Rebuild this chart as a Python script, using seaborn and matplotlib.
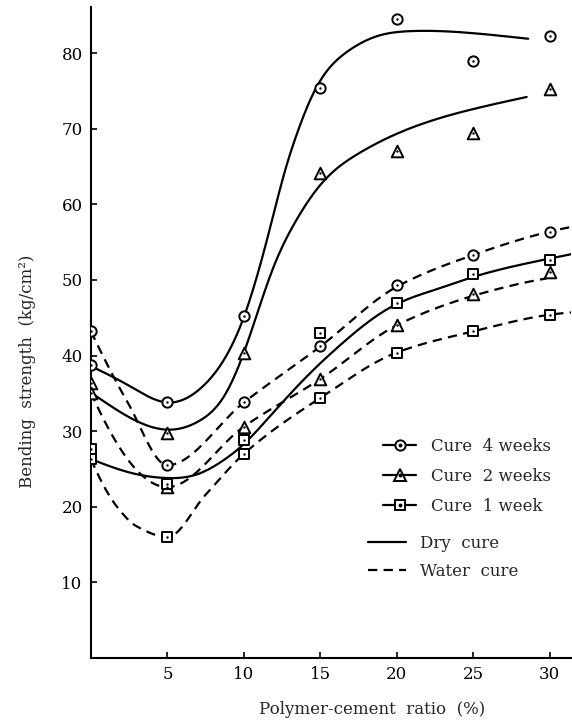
import numpy as np
import pandas as pd
import matplotlib
matplotlib.use("Agg")
import matplotlib.pyplot as plt
from matplotlib.lines import Line2D
import seaborn as sns

# ---- measured data (markers) ----
ratio = [0, 5, 10, 15, 20, 25, 30]
dry_4w = [38.7, 33.8, 45.2, 75.4, 84.5, 78.9, 82.3]
dry_2w = [36.4, 29.8, 40.4, 64.1, 67.1, 69.4, 75.2]
dry_1w = [27.7, 23.0, 28.8, 43.0, 47.0, 50.8, 52.6]
water_4w = [43.2, 25.5, 33.8, 41.2, 49.3, 53.3, 56.4]
water_2w = [35.1, 22.6, 30.6, 36.9, 44.1, 48.1, 51.0]
water_1w = [26.3, 16.0, 27.0, 34.4, 40.4, 43.2, 45.4]

# ---- fitted curves as drawn (knots) ----
dry_4w_fit_x = [0, 2.5, 5, 7.5, 10, 11.6, 12.7, 13.5, 14.7, 16.7, 18.8, 20.8, 24.6, 28.6]
dry_4w_fit_y = [38.6, 36.0, 33.8, 36.3, 45.1, 56.0, 64.5, 69.5, 75.3, 80.1, 82.3, 82.9, 82.7, 81.9]
dry_2w_fit_x = [0, 1.7, 5, 7.2, 8.7, 10, 11.9, 13.4, 15.1, 17.4, 20.8, 25.0, 28.5]
dry_2w_fit_y = [35.1, 32.8, 30.2, 31.5, 34.6, 40.4, 51.5, 57.8, 62.8, 66.6, 70.0, 72.6, 74.2]
dry_1w_fit_x = [0, 2.4, 5, 6.8, 8.7, 10, 11.5, 14.1, 16.2, 19.7, 22.8, 24.7, 29.7, 31.4]
dry_1w_fit_y = [26.3, 24.6, 23.8, 24.2, 26.2, 28.3, 31.5, 37.2, 41.2, 46.5, 48.9, 50.2, 52.7, 53.4]
water_4w_fit_x = [0, 2.4, 5, 10, 15, 20, 25, 30, 31.4]
water_4w_fit_y = [43.2, 33.8, 25.5, 33.8, 41.2, 49.1, 53.3, 56.4, 57.0]
water_2w_fit_x = [0, 5, 10, 15, 20, 25, 29.8]
water_2w_fit_y = [35.1, 22.6, 30.6, 36.9, 44.0, 47.9, 50.2]
water_1w_fit_x = [0, 1.7, 3.0, 5, 7.5, 10, 15, 20, 25, 30, 31.4]
water_1w_fit_y = [26.3, 20.0, 17.4, 16.0, 21.6, 27.0, 34.4, 40.4, 43.2, 45.4, 45.7]

x_ticks = [5, 10, 15, 20, 25, 30]
y_ticks = [10, 20, 30, 40, 50, 60, 70, 80]
legend_ages = ["Cure  4 weeks", "Cure  2 weeks", "Cure  1 week"]
legend_cures = ["Dry  cure", "Water  cure"]


def pchip(x, y, xs):
    x = np.asarray(x, float)
    y = np.asarray(y, float)
    h = np.diff(x)
    d = np.diff(y) / h
    n = len(x)
    m = np.zeros(n)
    for k in range(1, n - 1):
        if d[k - 1] * d[k] > 0:
            w1 = 2 * h[k] + h[k - 1]
            w2 = h[k] + 2 * h[k - 1]
            m[k] = (w1 + w2) / (w1 / d[k - 1] + w2 / d[k])
    def endslope(h0, h1, d0, d1):
        s = ((2 * h0 + h1) * d0 - h0 * d1) / (h0 + h1)
        if np.sign(s) != np.sign(d0):
            s = 0.0
        elif np.sign(d0) != np.sign(d1) and abs(s) > abs(3 * d0):
            s = 3 * d0
        return s
    m[0] = endslope(h[0], h[1], d[0], d[1])
    m[-1] = endslope(h[-1], h[-2], d[-1], d[-2])
    idx = np.clip(np.searchsorted(x, xs) - 1, 0, n - 2)
    t = (xs - x[idx]) / h[idx]
    h00 = 2 * t**3 - 3 * t**2 + 1
    h10 = t**3 - 2 * t**2 + t
    h01 = -2 * t**3 + 3 * t**2
    h11 = t**3 - t**2
    return h00 * y[idx] + h10 * h[idx] * m[idx] + h01 * y[idx + 1] + h11 * h[idx] * m[idx + 1]


def natural_spline(x, y, xs):
    x = np.asarray(x, float)
    y = np.asarray(y, float)
    n = len(x)
    h = np.diff(x)
    A = np.zeros((n, n))
    b = np.zeros(n)
    A[0, 0] = 1
    A[-1, -1] = 1
    for i in range(1, n - 1):
        A[i, i - 1] = h[i - 1]
        A[i, i] = 2 * (h[i - 1] + h[i])
        A[i, i + 1] = h[i]
        b[i] = 6 * ((y[i + 1] - y[i]) / h[i] - (y[i] - y[i - 1]) / h[i - 1])
    M = np.linalg.solve(A, b)
    idx = np.clip(np.searchsorted(x, xs) - 1, 0, n - 2)
    x0, x1 = x[idx], x[idx + 1]
    hh = h[idx]
    return (M[idx] * (x1 - xs) ** 3 / (6 * hh) + M[idx + 1] * (xs - x0) ** 3 / (6 * hh)
            + (y[idx] / hh - M[idx] * hh / 6) * (x1 - xs)
            + (y[idx + 1] / hh - M[idx + 1] * hh / 6) * (xs - x0))


curves = [
    ("Dry", "4w", dry_4w_fit_x, dry_4w_fit_y, natural_spline),
    ("Dry", "2w", dry_2w_fit_x, dry_2w_fit_y, natural_spline),
    ("Dry", "1w", dry_1w_fit_x, dry_1w_fit_y, natural_spline),
    ("Water", "4w", water_4w_fit_x, water_4w_fit_y, pchip),
    ("Water", "2w", water_2w_fit_x, water_2w_fit_y, pchip),
    ("Water", "1w", water_1w_fit_x, water_1w_fit_y, pchip),
]
rows = []
for cure, age, kx, ky, fn in curves:
    xs = np.linspace(kx[0], kx[-1], 300)
    ys = fn(kx, ky, xs)
    for a, b in zip(xs, ys):
        rows.append({"cure": cure, "id": cure + age, "x": a, "y": b})
curve_df = pd.DataFrame(rows)

pts = []
for cure, age, vals in [("Dry", "4w", dry_4w), ("Dry", "2w", dry_2w), ("Dry", "1w", dry_1w),
                        ("Water", "4w", water_4w), ("Water", "2w", water_2w), ("Water", "1w", water_1w)]:
    for r, v in zip(ratio, vals):
        pts.append({"cure": cure, "age": age, "x": r, "y": v})
pt_df = pd.DataFrame(pts)

sns.set_theme(style="ticks")
plt.rcParams["font.family"] = ["DejaVu Serif", "Liberation Serif"]
FS = 12

fig = plt.figure(figsize=(5.72, 7.23), dpi=100)
ax = fig.add_axes([91 / 572, 65 / 723, 480 / 572, 651 / 723])

DASH = (4.2, 2.8)
LW = 1.6
sns.lineplot(data=curve_df, x="x", y="y", units="id", style="cure",
             dashes={"Dry": "", "Water": DASH}, estimator=None, sort=False,
             color="black", linewidth=LW, legend=False, ax=ax)

marker_spec = {"4w": ("o", 55), "2w": ("^", 70), "1w": ("s", 50)}
for age, (mk, sz) in marker_spec.items():
    sub = pt_df[pt_df["age"] == age]
    sns.scatterplot(data=sub, x="x", y="y", marker=mk, s=sz, color="white",
                    edgecolor="black", linewidth=1.4, zorder=5, legend=False, ax=ax)
    sns.scatterplot(data=sub, x="x", y="y", marker="o", s=3, color="black",
                    edgecolor="black", linewidth=0, zorder=6, legend=False, ax=ax)

ax.set_xlim(0, 31.4)
ax.set_ylim(0, 86.1)
ax.set_xticks(x_ticks)
ax.set_yticks(y_ticks)
ax.tick_params(direction="in", length=4, width=1.2, labelsize=FS, colors="black", pad=6)
for s in ["top", "right"]:
    ax.spines[s].set_visible(False)
for s in ["left", "bottom"]:
    ax.spines[s].set_linewidth(1.5)
    ax.spines[s].set_color("black")

ax.set_xlabel("Polymer-cement  ratio  (%)", fontsize=FS)
ax.xaxis.set_label_coords(0.585, -0.066)
ax.set_ylabel("Bending  strength  (kg/cm²)", fontsize=FS)
ax.yaxis.set_label_coords(-0.115, 0.44)

# legends
mk_handles = []
for mk, ms in [("o", 7.4), ("^", 8.2), ("s", 7.0)]:
    h1 = Line2D([], [], color="black", lw=LW, marker=mk, ms=ms, mfc="white", mec="black", mew=1.4)
    h2 = Line2D([], [], color="none", lw=0, marker="o", ms=1.8, mfc="black", mec="black")
    mk_handles.append((h1, h2))
leg1 = ax.legend(mk_handles, legend_ages, loc="upper left",
                 bbox_to_anchor=(383 / 572, 1 - 438 / 723), bbox_transform=fig.transFigure,
                 frameon=False, borderpad=0, borderaxespad=0, handlelength=2.0,
                 handletextpad=0.9, labelspacing=0.78, fontsize=FS)
ax.add_artist(leg1)
ln_handles = [Line2D([], [], color="black", lw=LW),
              Line2D([], [], color="black", lw=LW, dashes=DASH)]
ax.legend(ln_handles, legend_cures, loc="upper left",
          bbox_to_anchor=(368 / 572, 1 - 535 / 723), bbox_transform=fig.transFigure,
          frameon=False, borderpad=0, borderaxespad=0, handlelength=2.3,
          handletextpad=0.8, labelspacing=0.63, fontsize=FS)

fig.savefig("out.png", dpi=100)
